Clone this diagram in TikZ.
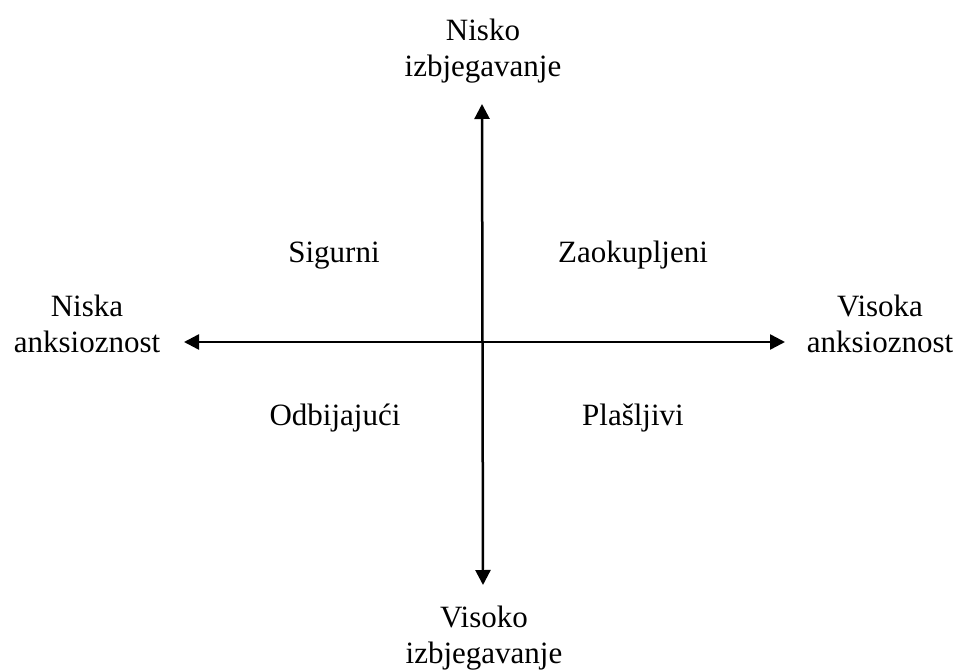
\documentclass[tikz,border=0pt]{standalone}
\usepackage{fontspec}
\setmainfont{Liberation Serif}
\usetikzlibrary{arrows.meta}
\begin{document}
\begin{tikzpicture}[x=1pt,y=-1pt,
  axis/.style={line width=2.5pt,{Triangle[length=15pt,width=15pt]}-{Triangle[length=15pt,width=15pt]}},
  lbl/.style={font=\fontsize{31}{36}\selectfont,align=center,inner sep=0pt,anchor=base}]
\useasboundingbox (0,0) rectangle (956,671);
\coordinate (T) at (482,104);
\coordinate (B) at (483,585);
\coordinate (L) at (184,342);
\coordinate (R) at (785,342);
\draw[axis] (T) -- (B);
\draw[axis] (L) -- (R);
\node[lbl] (nisko) at (483,77) {Nisko\\izbjegavanje};
\node[lbl] (visoko) at (484,663) {Visoko\\izbjegavanje};
\node[lbl] (niska) at (87,352) {Niska\\anksioznost};
\node[lbl] (visoka) at (880,352) {Visoka\\anksioznost};
\node[lbl] (sig) at (334,262) {Sigurni};
\node[lbl] (zao) at (633,262) {Zaokupljeni};
\node[lbl] (odb) at (335,425) {Odbijajući};
\node[lbl] (pla) at (633,425) {Plašljivi};
\end{tikzpicture}
\end{document}
